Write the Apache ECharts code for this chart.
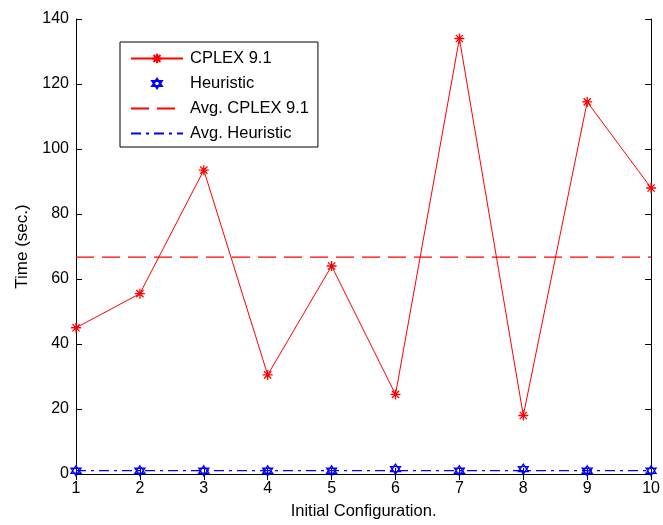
<!DOCTYPE html>
<html><head><meta charset="utf-8">
<script src="https://cdn.jsdelivr.net/npm/echarts@6/dist/echarts.min.js"></script>
<style>html,body{margin:0;padding:0;background:#fff}#c{width:663px;height:525px}</style>
</head><body><div id="c"></div>
<script>
var configs = [1,2,3,4,5,6,7,8,9,10];
var cplex = [45, 55.5, 93.5, 30.5, 64, 24.5, 134, 18, 114.5, 88];
var heuristic = [1, 1, 1, 1, 1, 1.5, 1, 1.5, 1, 1];
var avgCplex = 66.75;
var avgHeur = 1.05;
var yTicks = [0,20,40,60,80,100,120,140];

var FONT = 'Liberation Sans, Arial, sans-serif';
var FS = 16;
var star = 'path://M0,-1L0,1M-1,0L1,0M-0.72,-0.72L0.72,0.72M-0.72,0.72L0.72,-0.72';
var hex = 'path://M0,-1L0.866,0.5L-0.866,0.5ZM0,1L0.866,-0.5L-0.866,-0.5Z';

var chart = echarts.init(document.getElementById('c'), null, {renderer:'canvas'});
var axisCommon = {
  axisLine:{show:true,lineStyle:{color:'#000',width:1}},
  axisTick:{show:true,inside:true,length:6,lineStyle:{color:'#000'}},
  splitLine:{show:false}
};
chart.setOption({
  animation:false,
  backgroundColor:'#fff',
  grid:{left:76,right:7,top:19,bottom:48,containLabel:false},
  xAxis:[
    Object.assign({type:'value',min:1,max:10,interval:1,position:'bottom',
      name:'Initial Configuration.',nameLocation:'middle',nameGap:29,
      nameTextStyle:{fontFamily:FONT,fontSize:16.5,color:'#000'},
      axisLabel:{fontFamily:FONT,fontSize:FS,color:'#000',margin:7,
        formatter:function(v){return configs.indexOf(v)>=0?String(v):'';}}},axisCommon),
    Object.assign({type:'value',min:1,max:10,interval:1,position:'top',axisLabel:{show:false}},axisCommon)
  ],
  yAxis:[
    Object.assign({type:'value',min:0,max:140,interval:20,position:'left',
      name:'Time (sec.)',nameLocation:'middle',nameGap:45,nameRotate:90,
      nameTextStyle:{fontFamily:FONT,fontSize:17,color:'#000'},
      axisLabel:{fontFamily:FONT,fontSize:FS,color:'#000',margin:7,
        formatter:function(v){return yTicks.indexOf(v)>=0?String(v):'';}}},axisCommon),
    Object.assign({type:'value',min:0,max:140,interval:20,position:'right',axisLabel:{show:false}},axisCommon)
  ],
  legend:{
    show:true, orient:'vertical', left:120, top:42,
    backgroundColor:'#fff', borderColor:'#000', borderWidth:1, borderRadius:0,
    padding:[7,9,4,10], itemGap:6, itemWidth:52, itemHeight:12,
    textStyle:{fontFamily:FONT,fontSize:16.5,color:'#000',lineHeight:19,padding:[0,0,0,2]},
    data:[
      {name:'CPLEX 9.1'},
      {name:'Heuristic'},
      {name:'Avg. CPLEX 9.1',itemStyle:{opacity:0}},
      {name:'Avg. Heuristic',itemStyle:{opacity:0}}
    ]
  },
  series:[
    {name:'CPLEX 9.1',type:'line',data:configs.map(function(c,i){return [c,cplex[i]];}),
      symbol:star,symbolSize:10,showAllSymbol:true,
      lineStyle:{color:'#ff0000',width:1},
      itemStyle:{color:'#ff0000',borderColor:'#ff0000',borderWidth:1.3},z:3},
    {name:'Heuristic',type:'line',data:configs.map(function(c,i){return [c,heuristic[i]];}),
      symbol:hex,symbolSize:10,showAllSymbol:true,
      lineStyle:{width:0,opacity:0},
      itemStyle:{color:'rgba(0,0,0,0)',borderColor:'#0000ff',borderWidth:1.3},z:4},
    {name:'Avg. CPLEX 9.1',type:'line',data:[[1,avgCplex],[10,avgCplex]],symbol:'none',
      lineStyle:{color:'#ff0000',width:1.3,type:[18,8]},itemStyle:{color:'#ff0000'},z:2},
    {name:'Avg. Heuristic',type:'line',data:[[1,avgHeur],[10,avgHeur]],symbol:'none',
      lineStyle:{color:'#0000ff',width:1.3,type:[10,5,3,5]},itemStyle:{color:'#0000ff'},z:2}
  ]
});
</script></body></html>
